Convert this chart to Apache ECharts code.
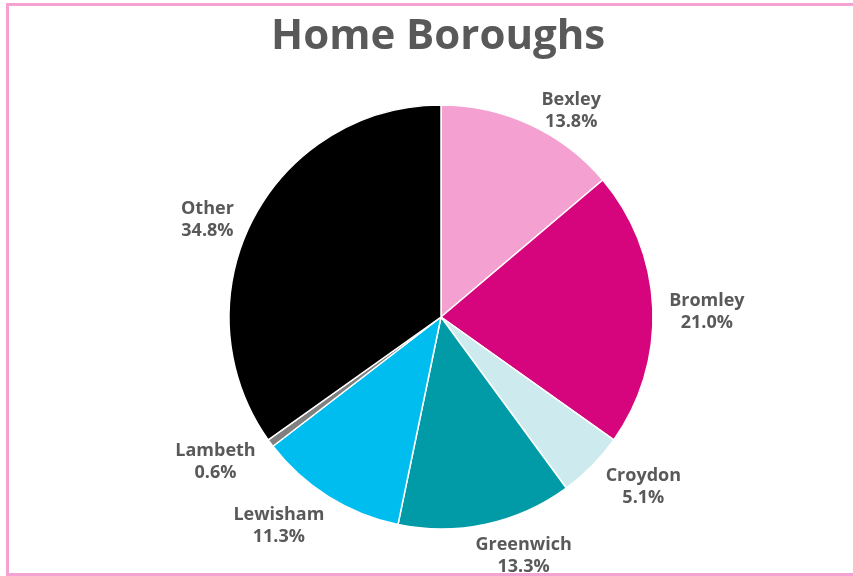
<!DOCTYPE html>
<html>
<head>
<meta charset="utf-8">
<script src="https://cdn.jsdelivr.net/npm/echarts@6/dist/echarts.min.js"></script>
<style>
  html, body { margin: 0; padding: 0; background: #ffffff; }
  #wrap { position: relative; width: 853px; height: 576px; overflow: hidden; }
  #frame { position: absolute; left: 6px; top: 3px; width: 900px; height: 573px; box-sizing: border-box; border: 3px solid #F4A2D2; }
  #chart { position: absolute; left: 0; top: 0; width: 853px; height: 576px; }
</style>
</head>
<body>
<div id="wrap">
  <div id="frame"></div>
  <div id="chart"></div>
</div>
<script>
var titleText = 'Home Boroughs';
var boroughs = ['Bexley', 'Bromley', 'Croydon', 'Greenwich', 'Lewisham', 'Lambeth', 'Other'];
var shares = [13.8, 21.0, 5.1, 13.3, 11.3, 0.6, 34.8];
var sliceColors = ['#F4A0D0', '#D6057E', '#CDEBEE', '#009BA6', '#00BDF0', '#808080', '#000000'];

var PIE_CX = 441, PIE_CY = 317, PIE_R = 212, LABEL_GAP = 16, LABEL_SHIFT_Y = 10;
var PULL = 7 * Math.PI / 180;

var seriesData = boroughs.map(function (name, i) {
  return { name: name, value: shares[i], itemStyle: { color: sliceColors[i] } };
});

var chart = echarts.init(document.getElementById('chart'), null, { renderer: 'canvas' });
chart.setOption({
  backgroundColor: 'transparent',
  animation: false,
  title: {
    text: titleText,
    left: 266,
    top: 11,
    textStyle: { fontFamily: 'Open Sans', fontWeight: 'bold', fontSize: 42, color: '#595959' }
  },
  series: [{
    type: 'pie',
    center: [PIE_CX, PIE_CY],
    radius: PIE_R,
    startAngle: 90,
    clockwise: true,
    avoidLabelOverlap: false,
    itemStyle: { borderColor: '#ffffff', borderWidth: 1.5 },
    label: {
      show: true,
      position: 'outside',
      formatter: function (p) {
        return '{a|' + p.name + '}\n{a|' + p.value.toFixed(1) + '%}';
      },
      rich: {
        a: { fontFamily: 'Open Sans', fontWeight: 'bold', fontSize: 18, lineHeight: 22, color: '#595959', align: 'center' }
      }
    },
    labelLine: { show: true, length: LABEL_GAP, length2: 0, lineStyle: { width: 0, opacity: 0 } },
    labelLayout: function (params) {
      var pts = params.labelLinePoints;
      if (!pts || pts.length < 2) return {};
      var p1 = pts[0], p2 = pts[1];
      var dx = p2[0] - p1[0], dy = p2[1] - p1[1];
      var theta = Math.atan2(dx, -dy);
      var phi = theta + PULL * Math.cos(theta) * (Math.sin(theta) >= 0 ? 1 : -1);
      var ux = Math.sin(phi), uy = -Math.cos(phi);
      var w = params.labelRect.width, h = params.labelRect.height;
      var ext = Math.abs(ux) * w / 2 + Math.abs(uy) * h * 0.23;
      var d = PIE_R + LABEL_GAP + ext;
      var shift = LABEL_SHIFT_Y * (1 - uy) / 2;
      return { x: PIE_CX + ux * d, y: PIE_CY + shift + uy * d, align: 'center', verticalAlign: 'middle' };
    },
    data: seriesData
  }]
});
</script>
</body>
</html>
